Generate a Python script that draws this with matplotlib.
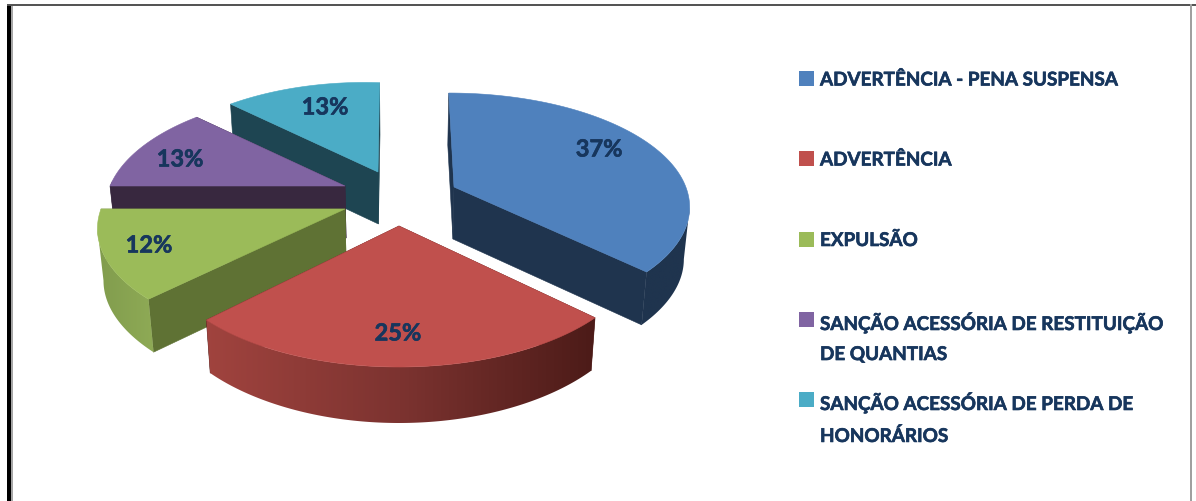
import numpy as np
import matplotlib
matplotlib.use("Agg")
import matplotlib.pyplot as plt
import matplotlib.patheffects as pe
from matplotlib.patches import Polygon, Rectangle
from matplotlib.colors import LinearSegmentedColormap

# ---- data ----
categories = ["Advertência - Pena suspensa", "Advertência", "Expulsão",
              "Sanção Acessória de Restituição\nde Quantias",
              "Sanção Acessória de Perda de\nHonorários"]
values = [37, 25, 12, 13, 13]
value_labels = ["37%", "25%", "12%", "13%", "13%"]

# ---- style ----
top_colors = ["#4F81BD", "#C0504D", "#9BBB59", "#8064A2", "#4BACC6"]
cut_colors = ["#1F344E", "#4E1C19", "#5F7234", "#38283F", "#1E4552"]
side_stops = [["#1F344E", "#1F344E"],
              ["#A2443F", "#7C3330", "#4A1A17"],
              ["#7F9A4C", "#8FAB56"],
              ["#38283F", "#38283F"],
              ["#1E4552", "#1E4552"]]
apex = [(454, 187), (399, 226), (345, 209), (345, 186), (378, 172)]
radius = [240, 236, 244, 235, 230]
scale = [(1, 0.95), (1, 1), (0.975, 1), (1, 1), (1, 0.95)]
nudge = [(-1.5, 0), (1.2, 1.2), (2, 3.6), (3.6, 0.8), (0, 0.5)]
draw_order = [4, 3, 0, 2, 1]
label_xy = [(599, 149), (398, 333), (149, 245), (180, 159), (325, 107)]
legend_y = [78, 158, 239, 319, 399]
ink = "#17365D"
FONT = "Lato"
DEPTH, DEPTH_FRONT, XC, SHRINK, PERSP, YS = 52, 4, 400, 0.98, 0.2, 112.8


def project(theta, center, r, f):
    d = -np.cos(theta)
    s = 1 / (1 - PERSP * d)
    return center[0] + r * f * np.sin(theta) * s, center[1] + YS * f * d * s


def lower(x, y, theta):
    return (XC + (x - XC) * SHRINK,
            y + DEPTH + DEPTH_FRONT * np.clip(-np.cos(theta), 0, 1) ** 4)


fig = plt.figure(figsize=(11.96, 5.01), dpi=100)
ax = fig.add_axes([0, 0, 1, 1])
ax.set_xlim(0, 1196)
ax.set_ylim(501, 0)
ax.axis("off")

# frame
ax.add_patch(Rectangle((7, 4), 3.5, 497, fc="black", ec="none"))
ax.add_patch(Rectangle((11, 6), 2, 495, fc="#A6A6A6", ec="none"))
ax.add_patch(Rectangle((7, 4), 1189, 2, fc="#555555", ec="none"))
ax.add_patch(Rectangle((1189.5, 4), 2.5, 497, fc="#A0A0A0", ec="none"))

edges = np.cumsum([0] + values) / sum(values) * 2 * np.pi
for order, i in enumerate(draw_order):
    z = 1 + order
    a0 = edges[i] + np.radians(nudge[i][0])
    a1 = edges[i + 1] + np.radians(nudge[i][1])
    c, r = apex[i], radius[i]
    th = np.linspace(a0, a1, 181)
    f = np.linspace(scale[i][0], scale[i][1], 181)
    px, py = project(th, c, r, f)
    bx, by = lower(px, py, th)
    cb = lower(c[0], c[1], np.pi / 2)
    # cut faces
    for j in (0, -1):
        ax.add_patch(Polygon([c, (px[j], py[j]), (bx[j], by[j]), cb], fc=cut_colors[i],
                             ec=cut_colors[i], lw=0.4, zorder=z))
    # outer wall: only the visible front stretch, shaded from left to right
    front = np.where(-np.cos(th) > -0.05)[0]
    if len(front) > 1:
        lo = front[np.argmax(px[front])]
        hi = front[np.argmin(px[front])]
        if lo > hi:
            lo, hi = hi, lo
        if hi > lo:
            k = np.arange(lo, hi + 1)
            wall = Polygon(list(zip(px[k], py[k])) + list(zip(bx[k][::-1], by[k][::-1])),
                           fc="none", ec="none", transform=ax.transData)
            ax.add_patch(wall)
            cmap = LinearSegmentedColormap.from_list("w", side_stops[i])
            im = ax.imshow(np.linspace(0, 1, 256).reshape(1, -1), cmap=cmap, aspect="auto",
                           extent=(px.min() - 8, px.max() + 8, by.max() + 2, py.min() - 2),
                           zorder=z + 0.1)
            im.set_clip_path(wall)
    # top
    ax.add_patch(Polygon([c] + list(zip(px, py)), fc=top_colors[i], ec=top_colors[i],
                         lw=0.4, zorder=z + 0.5))
ax.set_xlim(0, 1196)
ax.set_ylim(501, 0)

bold = [pe.withStroke(linewidth=0.45, foreground=ink)]
for (x, y), txt in zip(label_xy, value_labels):
    ax.text(x, y, txt, ha="center", va="center", family=FONT, weight="bold",
            fontsize=17, color=ink, zorder=20, path_effects=bold)

for y, col, name in zip(legend_y, top_colors, categories):
    ax.add_patch(Rectangle((799, y - 7.5), 15, 15, fc=col, ec="none"))
    ax.text(820, y - 7, name.upper(), ha="left", va="top", family=FONT, weight="bold",
            fontsize=13.6, color=ink, linespacing=1.93, path_effects=bold, zorder=20)

fig.savefig("out.png", dpi=100)
